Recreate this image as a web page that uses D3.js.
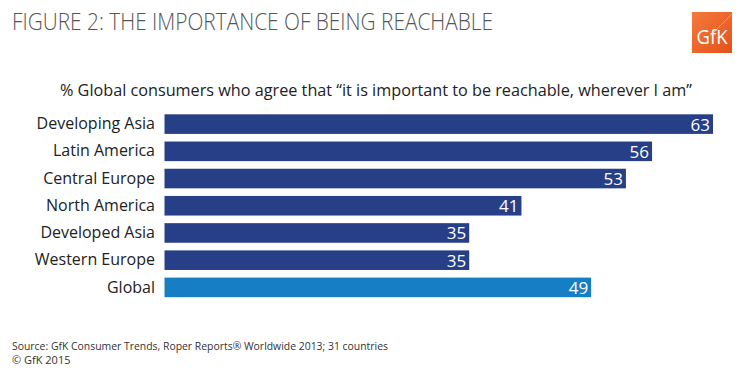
<!DOCTYPE html>
<html>
<head>
<meta charset="utf-8">
<script src="https://cdn.jsdelivr.net/npm/d3@7"></script>
<style>
  body { margin: 0; background: #fff; }
  text { font-family: "Open Sans", "DejaVu Sans", sans-serif; }
</style>
</head>
<body>
<div id="okvir"></div>
<script>
// podaci
var regions = ["Developing Asia", "Latin America", "Central Europe", "North America", "Developed Asia", "Western Europe", "Global"];
var values = [63, 56, 53, 41, 35, 35, 49];
var barColors = ["#263f87", "#263f87", "#263f87", "#263f87", "#263f87", "#263f87", "#167ec4"];

var width = 750;
var height = 375;

var svg = d3.select("#okvir")
    .append("svg")
    .attr("width", width)
    .attr("height", height);

// naslov
svg.append("text")
    .attr("x", 12)
    .attr("y", 30)
    .attr("textLength", 481)
    .attr("lengthAdjust", "spacingAndGlyphs")
    .style("font-size", "23px")
    .style("font-weight", 300)
    .style("fill", "#555")
    .text("FIGURE 2: THE IMPORTANCE OF BEING REACHABLE");

// GfK logo
var grad = svg.append("defs").append("linearGradient")
    .attr("id", "logoGrad")
    .attr("x1", "0").attr("y1", "0").attr("x2", "1").attr("y2", "1");
grad.append("stop").attr("offset", "0%").attr("stop-color", "#f47a3c");
grad.append("stop").attr("offset", "100%").attr("stop-color", "#e4521c");

var logo = svg.append("g").attr("transform", "translate(692,12)");
logo.append("rect").attr("width", 40).attr("height", 41).attr("fill", "url(#logoGrad)");
logo.append("line")
    .attr("x1", 18).attr("y1", 24).attr("x2", 40).attr("y2", 2)
    .attr("stroke", "#f9a57a").attr("stroke-width", 0.8);
logo.append("text")
    .attr("x", 20).attr("y", 32)
    .attr("text-anchor", "middle")
    .attr("textLength", 31)
    .attr("lengthAdjust", "spacingAndGlyphs")
    .style("font-size", "20px")
    .style("fill", "#fff")
    .text("GfK");

// podnaslov
svg.append("text")
    .attr("x", 376)
    .attr("y", 96)
    .attr("text-anchor", "middle")
    .attr("textLength", 632)
    .attr("lengthAdjust", "spacingAndGlyphs")
    .style("font-size", "16px")
    .style("fill", "#222")
    .text("% Global consumers who agree that \u201cit is important to be reachable, wherever I am\u201d");

// skale
var x = d3.scaleLinear()
    .domain([0, 63])
    .range([164.5, 713]);

var y = d3.scaleBand()
    .domain(regions)
    .range([110.5, 301])
    .paddingInner(0.28)
    .paddingOuter(0.14);

// os s nazivima regija
var yAxis = svg.append("g")
    .attr("transform", "translate(164,0)")
    .call(d3.axisLeft(y).tickSize(0).tickPadding(9));
yAxis.select(".domain").remove();
yAxis.selectAll("text")
    .style("font-size", "16px")
    .style("fill", "#222")
    .style("font-family", "\"Open Sans\", sans-serif");

// stupci
svg.selectAll(".bar")
    .data(regions)
    .enter()
    .append("rect")
    .attr("class", "bar")
    .attr("x", x(0))
    .attr("y", d => y(d))
    .attr("width", (d, i) => x(values[i]) - x(0))
    .attr("height", y.bandwidth())
    .attr("fill", (d, i) => barColors[i]);

// vrijednosti
svg.selectAll(".val")
    .data(regions)
    .enter()
    .append("text")
    .attr("class", "val")
    .attr("x", (d, i) => x(values[i]) - 3)
    .attr("y", d => y(d) + y.bandwidth() / 2 + 6.5)
    .attr("text-anchor", "end")
    .style("font-size", "17px")
    .style("fill", "#fff")
    .text((d, i) => values[i]);

// izvor
svg.append("text")
    .attr("x", 12)
    .attr("y", 350)
    .attr("textLength", 376)
    .attr("lengthAdjust", "spacingAndGlyphs")
    .style("font-size", "11px")
    .style("fill", "#333")
    .text("Source: GfK Consumer Trends, Roper Reports\u00ae Worldwide 2013; 31 countries");
svg.append("text")
    .attr("x", 12)
    .attr("y", 364)
    .style("font-size", "11px")
    .style("fill", "#333")
    .text("\u00a9 GfK 2015");
</script>
</body>
</html>
